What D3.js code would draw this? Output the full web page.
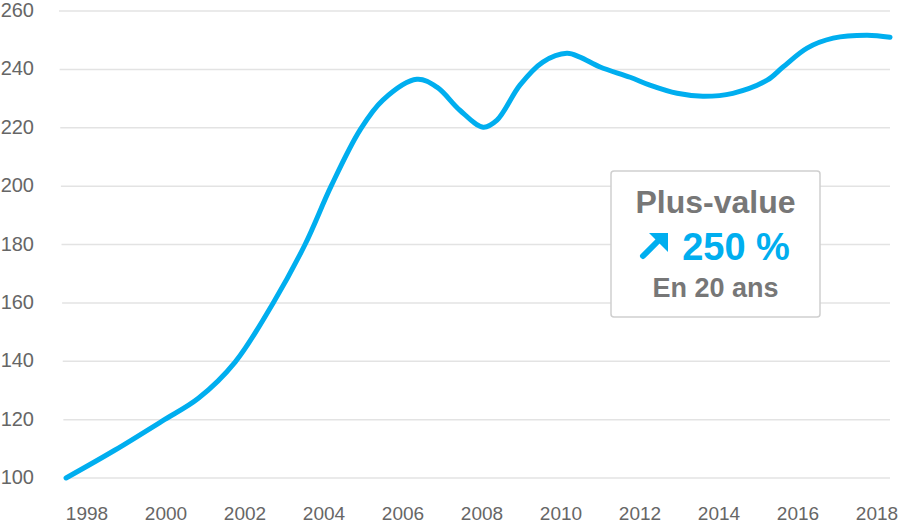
<!DOCTYPE html>
<html><head><meta charset="utf-8">
<script src="https://cdn.jsdelivr.net/npm/d3@7/dist/d3.min.js"></script>
<style>
html,body{margin:0;padding:0;background:#fff;}
svg{display:block;font-family:"Liberation Sans",Arial,Helvetica,sans-serif;}
</style></head>
<body><svg id="chart" width="900" height="524"></svg>
<script>
// Data (fractional years, index value)
const years = [1997.47,1998.70,1999.90,2000.82,2001.75,2002.71,2003.52,2004.18,2004.91,2005.49,2006.35,2006.86,2007.44,2008.03,2008.38,2008.96,2009.54,2010.15,2010.48,2010.99,2011.75,2012.25,2012.94,2013.59,2014.35,2015.22,2015.62,2016.23,2016.89,2017.75,2018.33];
const values = [100,109.5,119.5,127.3,139.7,159.9,180.0,200.0,219.2,229.5,236.6,233.9,226.0,220.2,222.6,234.6,242.5,245.5,244.2,240.8,237.3,234.6,231.8,230.8,231.8,236.3,240.8,247.3,250.7,251.7,251.0];
const xTicks = [1998,2000,2002,2004,2006,2008,2010,2012,2014,2016,2018];
const yTicks = [100,120,140,160,180,200,220,240,260];
const boxTitle = "Plus-value";
const boxValue = "250 %";
const boxSub = "En 20 ans";

const svg = d3.select("#chart");
const x = d3.scaleLinear().domain([1998, 2018]).range([87, 877]);
const y = d3.scaleLinear().domain([100, 260]).range([478, 11]);

// gridlines (slightly slanted left edge as in reference)
const gx = d3.scaleLinear().domain([260, 100]).range([59, 64]);
svg.append("g").selectAll("line").data(yTicks).join("line")
  .attr("x1", d => gx(d)).attr("x2", 890)
  .attr("y1", d => y(d)).attr("y2", d => y(d))
  .attr("stroke", "#e3e3e3").attr("stroke-width", 1.5);

// y labels
svg.append("g").selectAll("text").data(yTicks).join("text")
  .attr("x", 34).attr("y", d => y(d)).attr("dy", "0.3em")
  .attr("text-anchor", "end").attr("fill", "#666")
  .attr("font-size", 20).text(d => d);

// x labels
svg.append("g").selectAll("text").data(xTicks).join("text")
  .attr("x", d => x(d)).attr("y", 520)
  .attr("text-anchor", "middle").attr("fill", "#666")
  .attr("font-size", 19).text(d => d);

// line
const pts = years.map((yr, i) => [yr, values[i]]);
const line = d3.line().x(d => x(d[0])).y(d => y(d[1])).curve(d3.curveCatmullRom.alpha(0.5));
svg.append("path").datum(pts).attr("d", line)
  .attr("fill", "none").attr("stroke", "#00AEEF").attr("stroke-width", 5)
  .attr("stroke-linecap", "round").attr("stroke-linejoin", "round");

// annotation box
const bx = 611, by = 171, bw = 209, bh = 146, cx = bx + bw / 2;
svg.append("rect").attr("x", bx).attr("y", by).attr("width", bw).attr("height", bh)
  .attr("rx", 3).attr("fill", "#fff").attr("stroke", "#cfcfcf").attr("stroke-width", 1.5);
svg.append("text").attr("x", cx).attr("y", 213).attr("text-anchor", "middle")
  .attr("font-weight", "bold").attr("font-size", 32).attr("fill", "#777").text(boxTitle);
svg.append("text").attr("x", 736).attr("y", 260).attr("text-anchor", "middle")
  .attr("font-weight", "bold").attr("font-size", 38).attr("fill", "#00AEEF").text(boxValue);
// arrow icon
const ag = svg.append("g");
ag.append("line").attr("x1", 643).attr("y1", 256).attr("x2", 660).attr("y2", 239)
  .attr("stroke", "#00AEEF").attr("stroke-width", 6).attr("stroke-linecap", "round");
ag.append("path").attr("d", "M668,233 L668,252 L649,233 Z").attr("fill", "#00AEEF");
svg.append("text").attr("x", cx).attr("y", 297).attr("text-anchor", "middle")
  .attr("font-weight", "bold").attr("font-size", 27).attr("fill", "#777").text(boxSub);
</script></body></html>
